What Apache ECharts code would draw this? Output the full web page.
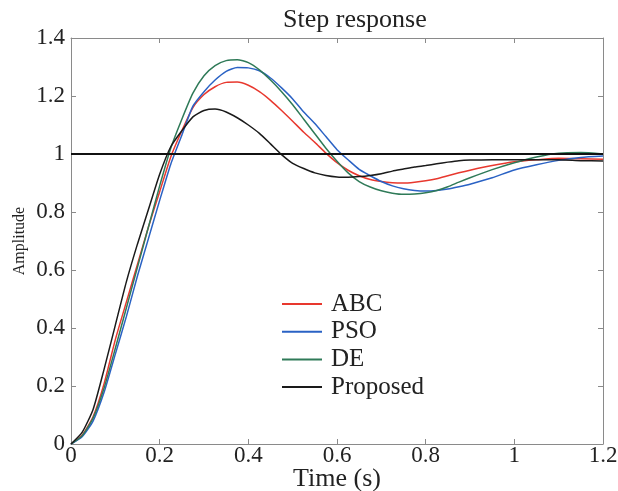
<!DOCTYPE html>
<html>
<head>
<meta charset="utf-8">
<script src="https://cdn.jsdelivr.net/npm/echarts@6/dist/echarts.min.js"></script>
<style>html,body{margin:0;padding:0;background:#fff}#c{width:618px;height:491px}</style>
</head>
<body>
<div id="c"></div>
<script>
const time = [0,0.025,0.05,0.075,0.1,0.125,0.15,0.175,0.2,0.225,0.25,0.275,0.3,0.325,0.35,0.375,0.4,0.425,0.45,0.475,0.5,0.525,0.55,0.575,0.6,0.625,0.65,0.675,0.7,0.725,0.75,0.775,0.8,0.825,0.85,0.875,0.9,0.95,1.0,1.05,1.1,1.15,1.2];
const abc = [0,0.03,0.095,0.21,0.36,0.49,0.62,0.75,0.87,0.99,1.08,1.16,1.205,1.232,1.247,1.248,1.237,1.215,1.185,1.15,1.113,1.075,1.04,1.003,0.97,0.944,0.925,0.912,0.905,0.901,0.90,0.903,0.908,0.915,0.925,0.935,0.944,0.96,0.973,0.98,0.985,0.984,0.982];
const pso = [0,0.025,0.08,0.18,0.31,0.44,0.58,0.71,0.84,0.965,1.065,1.165,1.215,1.255,1.285,1.298,1.297,1.287,1.262,1.228,1.19,1.145,1.105,1.06,1.015,0.98,0.947,0.925,0.905,0.89,0.88,0.874,0.872,0.874,0.879,0.887,0.896,0.918,0.945,0.963,0.978,0.988,0.993];
const de = [0,0.028,0.09,0.195,0.33,0.47,0.61,0.75,0.89,1.02,1.12,1.21,1.27,1.305,1.322,1.325,1.315,1.29,1.255,1.215,1.17,1.12,1.07,1.02,0.975,0.935,0.905,0.886,0.873,0.865,0.861,0.862,0.866,0.874,0.887,0.903,0.918,0.946,0.97,0.99,1.003,1.005,1.0];
const proposed = [0,0.04,0.12,0.26,0.41,0.56,0.69,0.81,0.93,1.025,1.08,1.128,1.15,1.155,1.145,1.125,1.10,1.071,1.035,0.998,0.968,0.95,0.935,0.926,0.921,0.92,0.922,0.926,0.932,0.941,0.948,0.955,0.96,0.966,0.972,0.977,0.979,0.98,0.98,0.98,0.98,0.977,0.976];
const reference = 1;
const seriesNames = ['ABC','PSO','DE','Proposed'];
const seriesColors = ['#e8382e','#2a62c4','#2f7a58','#1a1a1a'];
const xTickLabels = ['0','0.2','0.4','0.6','0.8','1','1.2'];
const yTickLabels = ['0','0.2','0.4','0.6','0.8','1','1.2','1.4'];

const font = '"Liberation Serif", "Times New Roman", serif';
const axisColor = '#8a8a8a';
const pairs = arr => time.map((t,i)=>[t,arr[i]]);
const values = [abc,pso,de,proposed];

const chart = echarts.init(document.getElementById('c'), null, {renderer:'canvas'});
function axis(extra){
  return Object.assign({
    type:'value', splitLine:{show:false},
    axisLine:{show:true, onZero:false, lineStyle:{color:axisColor, width:1}},
    axisTick:{show:true, inside:true, length:5, lineStyle:{color:axisColor}},
  }, extra);
}
chart.setOption({
  animation:false,
  backgroundColor:'#fff',
  title:{text:'Step response', left:278, top:2, textStyle:{fontFamily:font, fontSize:26, fontWeight:'normal', color:'#222'}},
  legend:{
    orient:'vertical', left:282, top:291.5, padding:0, itemWidth:40, itemHeight:2, itemGap:2.7,
    icon:'rect',
    data:seriesNames,
    textStyle:{fontFamily:font, fontSize:25, color:'#222', padding:[0,0,0,4]}
  },
  grid:{left:71, right:15, top:38, bottom:47, containLabel:false, outerBoundsMode:'none'},
  xAxis:[
    axis({min:0, max:1.2, interval:0.2, position:'bottom',
      name:'Time (s)', nameLocation:'middle', nameGap:22, nameMoveOverlap:false,
      nameTextStyle:{fontFamily:font, fontSize:26, color:'#222'},
      axisLabel:{fontFamily:font, fontSize:23, color:'#222', margin:0,
        formatter:(v)=>xTickLabels[Math.round(v/0.2)]}}),
    axis({min:0, max:1.2, interval:0.2, position:'top', axisLabel:{show:false}})
  ],
  yAxis:[
    axis({min:0, max:1.4, interval:0.2, position:'left',
      name:'Amplitude', nameLocation:'middle', nameGap:43, nameRotate:90, nameMoveOverlap:false,
      nameTextStyle:{fontFamily:font, fontSize:16, color:'#222'},
      axisLabel:{fontFamily:font, fontSize:23, color:'#222', margin:6,
        formatter:(v)=>yTickLabels[Math.round(v/0.2)]}}),
    axis({min:0, max:1.4, interval:0.2, position:'right', axisLabel:{show:false}})
  ],
  series: seriesNames.map((n,i)=>({
    name:n, type:'line', data:pairs(values[i]), symbol:'none', smooth:0.2,
    lineStyle:{color:seriesColors[i], width:1.5}, itemStyle:{color:seriesColors[i]},
    z: i===3 ? 3 : 2,
    markLine: i===3 ? {silent:true, symbol:'none', label:{show:false},
      lineStyle:{color:'#111', width:2, type:'solid'}, data:[{yAxis:reference}]} : undefined
  }))
});
</script>
</body>
</html>
